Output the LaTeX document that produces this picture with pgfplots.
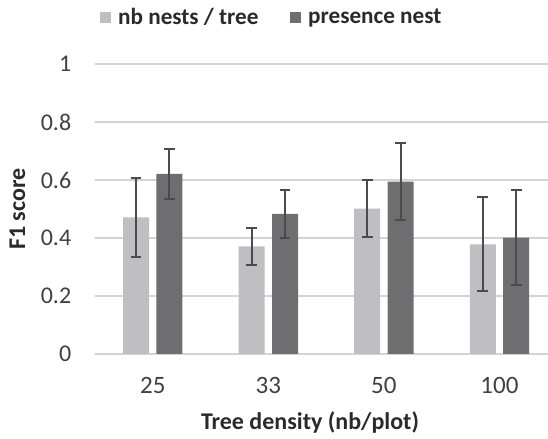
\documentclass[border=0pt]{standalone}
\usepackage{pgfplots}
\pgfplotsset{compat=1.18}
\usepackage{fontspec}
\setmainfont{Carlito}
\definecolor{lightbar}{RGB}{191,191,195}
\definecolor{darkbar}{RGB}{110,110,112}
\definecolor{errcol}{RGB}{75,75,75}
\definecolor{gridcol}{RGB}{212,212,212}
\definecolor{tickcol}{RGB}{64,64,64}
\definecolor{labcol}{RGB}{42,42,42}
\begin{document}
\begin{tikzpicture}
\path[use as bounding box] (0,0) rectangle (274pt,219.5pt);
\begin{axis}[
  at={(47.5pt,42.5pt)}, anchor=south west,
  scale only axis, width=226.5pt, height=145pt,
  ybar=3.7pt, bar width=13pt,
  xmin=-0.5, xmax=3.42, ymin=0, ymax=1,
  xtick=data, xticklabels={25,33,50,100},
  ytick={0,0.2,0.4,0.6,0.8,1},
  yticklabels={0,0.2,0.4,0.6,0.8,1},
  axis line style={draw=none},
  major tick length=0pt,
  ymajorgrids, grid style={gridcol, line width=0.95pt},
  /pgf/number format/assume math mode=true,
  yticklabel style={font=\fontsize{12}{14}\selectfont, text=tickcol, anchor=east, inner sep=0pt, xshift=-11.7pt},
  xticklabel style={font=\fontsize{12.5}{14}\selectfont, text=tickcol, anchor=north, inner sep=0pt, yshift=-11.5pt},
  xlabel={Tree density (nb/plot)},
  ylabel={F1 score},
  xlabel style={at={(axis description cs:0.4746,-0.262)}, anchor=base, font=\fontsize{12}{14}\selectfont\bfseries, text=labcol, inner sep=0pt},
  ylabel style={at={(axis description cs:-0.1545,0.5)}, anchor=base, font=\fontsize{12}{14}\selectfont\bfseries, text=labcol, inner sep=0pt},
  legend columns=2,
  legend style={at={(axis description cs:0.3874,1.16)}, anchor=center, draw=none, fill=none,
    font=\fontsize{11.6}{14}\selectfont\bfseries, text=labcol, inner sep=0pt,
    nodes={inner sep=0pt},
    /tikz/every odd column/.append style={column sep=3.5pt},
    /tikz/every even column/.append style={column sep=15.5pt}},
  legend image code/.code={\fill[#1] (0pt,-2.9pt) rectangle (5.8pt,2.9pt);},
  error bars/y dir=both, error bars/y explicit,
  error bars/error bar style={errcol, line width=1pt},
  error bars/error mark options={errcol, line width=1pt, mark size=2.7pt, rotate=90},
]
\addplot[fill=lightbar, draw=none] coordinates {
  (0,0.471) +- (0,0.135)
  (1,0.371) +- (0,0.065)
  (2,0.501) +- (0,0.099)
  (3,0.378) +- (0,0.162)
};
\addplot[fill=darkbar, draw=none] coordinates {
  (0,0.621) +- (0,0.086)
  (1,0.483) +- (0,0.084)
  (2,0.594) +- (0,0.133)
  (3,0.401) +- (0,0.164)
};
\legend{nb nests / tree, presence nest}
\end{axis}
\end{tikzpicture}
\end{document}
